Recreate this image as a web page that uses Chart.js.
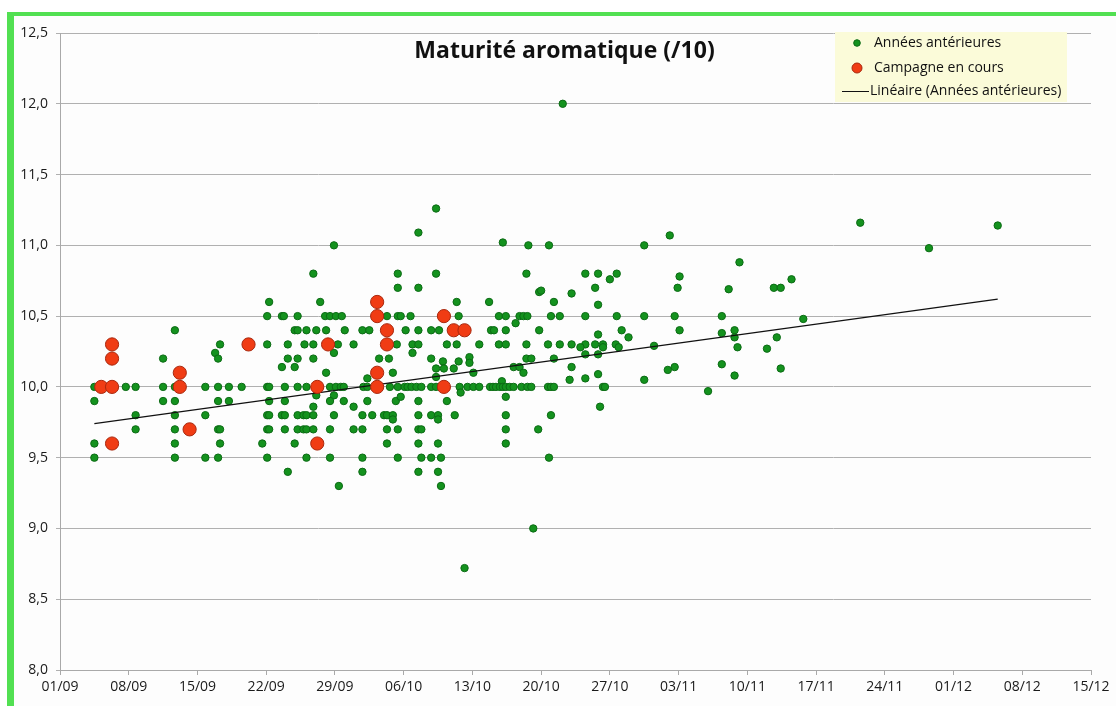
<!DOCTYPE html>
<html><head><meta charset="utf-8">
<script src="https://cdn.jsdelivr.net/npm/chart.js@4.4.0/dist/chart.umd.min.js"></script>
<style>
html,body{margin:0;padding:0;background:#fff;width:1116px;height:706px;overflow:hidden}
#frame{position:absolute;left:7px;top:12px;width:1109px;height:694px;border-left:7px solid #52e052;border-top:4px solid #52e052;box-sizing:border-box;background:#fdfdfd}
#wrap{position:absolute;left:0;top:0;width:1116px;height:706px}
</style></head><body>
<div id="frame"></div>
<div id="wrap"><canvas id="c" width="1116" height="706"></canvas></div>
<script>
// x = days since 01/09, y = score
const titleText = 'Maturité aromatique (/10)';
const legendLabels = ['Années antérieures', 'Campagne en cours', 'Linéaire (Années antérieures)'];
const xTickLabels = ['01/09','08/09','15/09','22/09','29/09','06/10','13/10','20/10','27/10','03/11','10/11','17/11','24/11','01/12','08/12','15/12'];
const yTickLabels = ['8,0','8,5','9,0','9,5','10,0','10,5','11,0','11,5','12,0','12,5'];

const anneesAnterieures = [
[3.5,10.0],[3.5,9.9],[3.5,9.6],[3.5,9.5],[6.7,10.0],[7.7,10.0],[7.7,9.8],[7.7,9.7],
[11.7,10.4],[10.5,10.2],[10.5,10.0],[10.5,9.9],[11.7,10.0],[11.7,9.9],[11.7,9.8],[11.7,9.7],[11.7,9.6],[11.7,9.5],
[14.8,10.0],[14.8,9.8],[14.8,9.5],[16.3,10.3],[15.8,10.24],[16.1,10.2],[16.1,10.0],[16.1,9.9],[16.1,9.7],[16.3,9.7],[16.3,9.6],[16.1,9.5],
[17.2,10.0],[17.2,9.9],[18.5,10.0],[20.6,9.6],[21.1,10.0],[21.1,9.5],[21.1,9.8],[21.3,9.8],[21.1,9.7],[21.3,9.7],[21.3,9.9],
[21.1,10.3],[21.1,10.5],[21.3,10.6],[21.3,10.0],
[27.9,11.0],[25.8,10.8],[34.4,10.8],[34.4,10.7],[26.5,10.6],
[22.6,10.5],[22.8,10.5],[24.2,10.5],[27.0,10.5],[27.5,10.5],[28.1,10.5],[28.7,10.5],[33.3,10.5],[34.4,10.5],
[23.9,10.4],[24.2,10.4],[25.1,10.4],[26.1,10.4],[27.1,10.4],[29.0,10.4],[30.8,10.4],[31.5,10.4],
[23.2,10.3],[24.9,10.3],[25.8,10.3],[28.3,10.3],[29.9,10.3],[34.3,10.3],[27.9,10.24],
[23.2,10.2],[24.2,10.2],[25.8,10.2],[32.5,10.2],[33.5,10.2],[22.6,10.14],[23.9,10.14],[27.1,10.1],[33.9,10.1],[31.3,10.06],
[22.9,10.0],[24.2,10.0],[25.1,10.0],[26.1,10.0],[27.5,10.0],[28.1,10.0],[28.6,10.0],[28.9,10.0],[30.9,10.0],[31.3,10.0],
[26.1,9.94],[27.9,9.94],[22.9,9.9],[27.5,9.9],[28.9,9.9],[31.3,9.9],[34.2,9.9],[25.8,9.86],[29.9,9.86],
[22.6,9.8],[22.9,9.8],[24.2,9.8],[24.8,9.8],[25.1,9.8],[25.8,9.8],[27.9,9.8],[30.8,9.8],[31.8,9.8],[33.0,9.8],[33.3,9.8],[33.9,9.8],
[22.9,9.7],[24.2,9.7],[24.8,9.7],[25.1,9.7],[25.8,9.7],[27.5,9.7],[29.9,9.7],[30.8,9.7],[33.3,9.7],[34.4,9.7],
[23.9,9.6],[33.3,9.6],[25.1,9.5],[27.5,9.5],[30.8,9.5],[34.4,9.5],[23.2,9.4],[30.8,9.4],[28.4,9.3],
[38.3,11.26],[36.5,11.09],[45.1,11.02],[47.7,11.0],[38.3,10.8],[47.5,10.8],[36.5,10.7],[48.8,10.67],[40.4,10.6],[43.7,10.6],
[34.7,10.5],[35.7,10.5],[40.6,10.5],[44.7,10.5],[45.4,10.5],[46.8,10.5],[47.2,10.5],[47.6,10.5],[46.4,10.45],
[35.2,10.4],[36.5,10.4],[37.8,10.4],[38.6,10.4],[43.9,10.4],[44.2,10.4],[45.4,10.4],[48.8,10.4],
[35.9,10.3],[36.5,10.3],[39.4,10.3],[40.4,10.3],[42.7,10.3],[44.7,10.3],[45.4,10.3],[47.5,10.3],
[35.9,10.24],[41.7,10.21],[37.8,10.2],[47.5,10.2],[48.0,10.2],[39.0,10.18],[40.6,10.18],[41.7,10.17],[46.2,10.14],[46.8,10.14],
[38.3,10.13],[39.1,10.13],[40.1,10.13],[42.1,10.1],[47.2,10.1],[38.3,10.07],[45.0,10.04],
[33.6,10.0],[34.4,10.0],[35.1,10.0],[35.4,10.0],[35.8,10.0],[36.3,10.0],[36.8,10.0],[37.8,10.0],[38.3,10.0],[40.7,10.0],
[41.5,10.0],[42.1,10.0],[42.7,10.0],[43.8,10.0],[44.1,10.0],[44.4,10.0],[44.8,10.0],[45.1,10.0],[45.4,10.0],[45.8,10.0],
[46.2,10.0],[47.0,10.0],[47.6,10.0],[48.0,10.0],
[40.8,9.96],[34.7,9.93],[45.4,9.93],[36.5,9.9],[39.4,9.9],[36.5,9.8],[37.8,9.8],[38.5,9.8],[40.2,9.8],[45.4,9.8],
[33.9,9.77],[38.5,9.77],[36.5,9.7],[36.8,9.7],[45.4,9.7],[48.7,9.7],[36.5,9.6],[38.5,9.6],[45.4,9.6],
[36.8,9.5],[37.8,9.5],[38.8,9.5],[36.5,9.4],[38.5,9.4],[38.8,9.3],[41.2,8.72],
[62.1,11.07],[49.8,11.0],[59.5,11.0],[51.2,12.0],[53.5,10.8],[54.8,10.8],[56.7,10.8],[56.0,10.76],[63.1,10.78],
[54.5,10.7],[62.9,10.7],[49.0,10.68],[52.1,10.66],[50.3,10.6],[54.8,10.58],
[50.0,10.5],[50.9,10.5],[53.5,10.5],[56.7,10.5],[59.5,10.5],[62.6,10.5],
[57.2,10.4],[57.9,10.35],[63.1,10.4],[54.8,10.37],
[49.7,10.3],[50.9,10.3],[52.1,10.3],[53.5,10.3],[54.5,10.3],[55.3,10.3],[56.6,10.3],
[53.0,10.28],[55.3,10.28],[56.9,10.28],[60.5,10.29],[53.5,10.23],[54.8,10.23],[50.3,10.2],
[52.1,10.14],[61.9,10.12],[62.6,10.14],[54.8,10.09],[53.5,10.06],[51.9,10.05],[59.5,10.05],
[49.7,10.0],[50.0,10.0],[50.3,10.0],[55.3,10.0],[55.5,10.0],[55.0,9.86],[50.0,9.8],[49.8,9.5],[48.2,9.0],
[69.2,10.88],[68.1,10.69],[72.7,10.7],[73.4,10.7],[74.5,10.76],[67.4,10.5],[75.7,10.48],[67.4,10.38],
[68.7,10.4],[68.7,10.35],[73.0,10.35],[69.0,10.28],[72.0,10.27],[67.4,10.16],[68.7,10.08],[73.4,10.13],[66.0,9.97],
[81.5,11.16],[88.5,10.98],[95.5,11.14]
];

const campagneEnCours = [
[4.2,10.0],[5.3,10.3],[5.3,10.2],[5.3,10.0],[5.3,9.6],[12.2,10.1],[12.2,10.0],[13.2,9.7],[19.2,10.3],
[26.2,10.0],[26.2,9.6],[27.3,10.3],[32.3,10.6],[32.3,10.5],[32.3,10.1],[32.3,10.0],[33.3,10.4],[33.3,10.3],
[39.1,10.5],[39.1,10.0],[40.1,10.4],[41.2,10.4]
];

const trendDays = [3.5, 95.5];
const trendValues = [9.74, 10.62];

const GREEN = '#14921e', GREEN_B = '#0b6a14', RED = '#f03c14', RED_B = '#a8280e';
const FONT = '"Open Sans", Lato, sans-serif';

const overlay = {
  id: 'overlay',
  afterDraw(chart) {
    const ctx = chart.ctx, a = chart.chartArea;
    ctx.save();
    ctx.font = 'bold 23px ' + FONT;
    ctx.fillStyle = '#111';
    ctx.textAlign = 'center';
    ctx.textBaseline = 'middle';
    ctx.fillText(titleText, (a.left + a.right) / 2 - 11, a.top + 18);

    const bx = a.right - 256, by = a.top - 1, bw = 232, bh = 70;
    ctx.fillStyle = '#fbfbd9';
    ctx.fillRect(bx, by, bw, bh);
    const mx = bx + 22, tx = bx + 39;
    const rows = [by + 11, by + 36, by + 59];
    ctx.beginPath(); ctx.arc(mx, rows[0], 3.3, 0, Math.PI * 2);
    ctx.fillStyle = GREEN; ctx.fill(); ctx.strokeStyle = GREEN_B; ctx.lineWidth = 1; ctx.stroke();
    ctx.beginPath(); ctx.arc(mx, rows[1], 5, 0, Math.PI * 2);
    ctx.fillStyle = RED; ctx.fill(); ctx.strokeStyle = RED_B; ctx.stroke();
    ctx.beginPath(); ctx.moveTo(bx + 7, rows[2] + 0.5); ctx.lineTo(bx + 34, rows[2] + 0.5);
    ctx.strokeStyle = '#111'; ctx.lineWidth = 1; ctx.stroke();
    ctx.font = '14px ' + FONT;
    ctx.fillStyle = '#111';
    ctx.textAlign = 'left';
    legendLabels.forEach((t, i) => {
      ctx.fillText(t, i === 2 ? tx - 4 : tx, rows[i]);
    });
    ctx.restore();
  }
};

new Chart(document.getElementById('c'), {
  type: 'scatter',
  data: {
    datasets: [
      { label: legendLabels[0], data: anneesAnterieures.map(p => ({ x: p[0], y: p[1] })),
        pointRadius: 3.7, backgroundColor: GREEN, borderColor: GREEN_B, borderWidth: 1, order: 3 },
      { label: legendLabels[2], data: trendDays.map((d, i) => ({ x: d, y: trendValues[i] })),
        showLine: true, borderColor: '#111', borderWidth: 1.2, pointRadius: 0, fill: false, order: 2 },
      { label: legendLabels[1], data: campagneEnCours.map(p => ({ x: p[0], y: p[1] })),
        pointRadius: 6.6, backgroundColor: RED, borderColor: RED_B, borderWidth: 1, order: 1 }
    ]
  },
  options: {
    responsive: false,
    animation: false,
    events: [],
    layout: { padding: { left: 0, right: 25, top: 33, bottom: 0 } },
    plugins: { legend: { display: false }, tooltip: { enabled: false }, title: { display: false } },
    scales: {
      x: {
        type: 'linear', min: 0, max: 105,
        ticks: { stepSize: 7, autoSkip: false, maxRotation: 0, padding: 4,
          callback: (v, i) => xTickLabels[i], font: { family: FONT, size: 14 }, color: '#1a1a1a' },
        grid: { drawOnChartArea: false, color: '#a9a9a9', tickLength: 5 },
        border: { color: '#a9a9a9' },
        afterFit(s) { s.height = 36; }
      },
      y: {
        min: 8, max: 12.5,
        ticks: { stepSize: 0.5, padding: 8, callback: (v, i) => yTickLabels[i],
          font: { family: FONT, size: 14 }, color: '#1a1a1a' },
        grid: { color: '#b0b0b0', tickLength: 4 },
        border: { color: '#a9a9a9' },
        afterFit(s) { s.width = 60; }
      }
    }
  },
  plugins: [overlay]
});
</script>
</body></html>
